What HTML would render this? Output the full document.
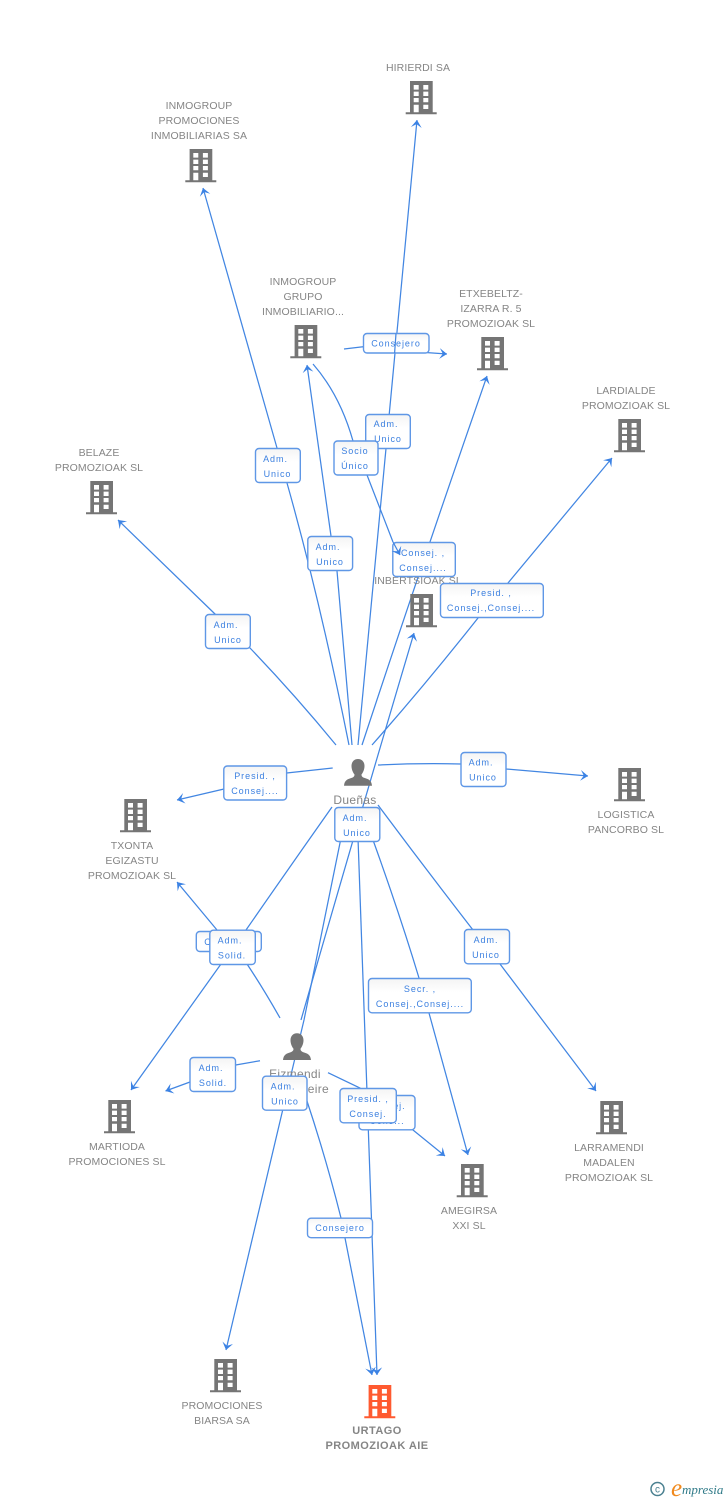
<!DOCTYPE html>
<html><head><meta charset="utf-8"><style>
html,body{margin:0;padding:0;background:#fff}
svg{display:block}
.n{font:10.5px "Liberation Sans",sans-serif;letter-spacing:.1px;fill:#858585;text-anchor:middle}
.b{font-size:11px;font-weight:bold;letter-spacing:.45px}
.p{font:12px "Liberation Sans",sans-serif;letter-spacing:.3px;fill:#858585;text-anchor:middle}
.l{font:9px "Liberation Sans",sans-serif;letter-spacing:.95px;fill:#3c80e0;text-anchor:middle}
.e path{fill:none;stroke:#4286e2;stroke-width:1.25;marker-end:url(#a)}
.e path.x{marker-end:none}
.r rect{fill:url(#g);stroke:#5f97e6;stroke-width:1.4}
</style></head><body>
<svg width="728" height="1500" viewBox="0 0 728 1500" xmlns="http://www.w3.org/2000/svg">
<defs>
<linearGradient id="g" x1="0" y1="0" x2="0" y2="1"><stop offset="0" stop-color="#f4f4f4"/><stop offset=".4" stop-color="#fff"/><stop offset="1" stop-color="#fff"/></linearGradient>
<marker id="a" markerUnits="userSpaceOnUse" markerWidth="16" markerHeight="16" refX="8" refY="8" orient="auto" overflow="visible"><path d="M8,8 L.5,2.6 L3.8,8 L.5,13.4 Z" fill="#3b82e4"/></marker>
<g id="bd"><path fill-rule="evenodd" d="M4.3,0H27V31.3H31V33.3H0V31.3H4.3ZM8,4V8.6H13V4ZM17.6,4V8.6H22.6V4ZM8,10.6V15H13V10.6ZM17.6,10.6V15H22.6V10.6ZM8,17V21.2H13V17ZM17.6,17V21.2H22.6V17ZM8,23.7V31.3H13V23.7ZM17.6,23.7V28H22.6V23.7Z"/></g>
<g id="pr"><path d="M14,0C18,0 20.5,3 20.5,7C20.5,10.5 19,13.5 17.5,15.5C17.5,17 18,18 20,18.8C24,20 27.5,21 28,26.7H0C.5,21 4,20 8,18.8C10,18 10.5,17 10.5,15.5C9,13.5 7.5,10.5 7.5,7C7.5,3 10,0 14,0Z"/></g>
</defs>

<g class="e">
<path d="M349,745Q320,600 287,483L277,448L203,188"/>
<path d="M358,745Q388,431 417,120"/>
<path d="M352,745Q343,640 337,571L331,536L307,365"/>
<path d="M344,349L363,346.7L429,352.7L447,354"/>
<path class="x" d="M313,364Q340,395 353,441L367,475L393,542"/>
<path d="M362,745Q423,560 487,376"/>
<path d="M372,745Q425,685 478,618L508,583L612,458"/>
<path d="M336,745Q295,695 250,648L215,614L118,520"/>
<path d="M301,1020Q357,825 414,633"/>
<path d="M332.7,768L286.7,773L224,789L177,800"/>
<path d="M378,765Q420,763 461,764L506,769L588,776"/>
<path d="M332,807Q289,868 246,930L221,964L131,1090"/>
<path d="M280,1018Q263,988 247,964L217,930L177,882"/>
<path d="M378,805Q425,868 473,930L500,964L596,1091"/>
<path d="M373,840Q400,915 419,978L429,1013L468,1155"/>
<path d="M358,838Q368,1106 377,1375"/>
<path d="M341,838L304,1020L282.7,1110L226,1350"/>
<path d="M260,1060.7L235.7,1065L190,1082L165.5,1091"/>
<path d="M328,1072.7L360,1088L413,1130L445,1156"/>
<path d="M306,1098Q326,1158 341,1218L345,1238L372,1375"/>
</g>

<g fill="#757575">
<use href="#bd" x="405.7" y="81"/>
<use href="#bd" x="185.3" y="149"/>
<use href="#bd" x="290.3" y="325"/>
<use href="#bd" x="477" y="337"/>
<use href="#bd" x="614" y="419"/>
<use href="#bd" x="86" y="481"/>
<use href="#bd" x="406" y="594"/>
<use href="#bd" x="614" y="768"/>
<use href="#bd" x="120" y="799"/>
<use href="#bd" x="104" y="1100"/>
<use href="#bd" x="596" y="1101"/>
<use href="#bd" x="456.7" y="1164"/>
<use href="#bd" x="210" y="1359"/>
<use href="#pr" x="344" y="759"/>
<use href="#pr" x="283" y="1033.3"/>
</g>
<use href="#bd" x="364.3" y="1385" fill="#ff5a30"/>

<text class="n" x="418" y="71">HIRIERDI SA</text>
<text class="n" x="199" y="109">INMOGROUP</text><text class="n" x="199" y="124">PROMOCIONES</text><text class="n" x="199" y="139">INMOBILIARIAS SA</text>
<text class="n" x="303" y="285">INMOGROUP</text><text class="n" x="303" y="300">GRUPO</text><text class="n" x="303" y="315">INMOBILIARIO...</text>
<text class="n" x="491" y="297">ETXEBELTZ-</text><text class="n" x="491" y="312">IZARRA R.  5</text><text class="n" x="491" y="327">PROMOZIOAK SL</text>
<text class="n" x="626" y="394">LARDIALDE</text><text class="n" x="626" y="409">PROMOZIOAK SL</text>
<text class="n" x="99" y="456">BELAZE</text><text class="n" x="99" y="471">PROMOZIOAK SL</text>
<text class="n" x="418" y="584">INBERTSIOAK SL</text>
<text class="n" x="626" y="818">LOGISTICA</text><text class="n" x="626" y="833">PANCORBO SL</text>
<text class="n" x="132" y="849">TXONTA</text><text class="n" x="132" y="864">EGIZASTU</text><text class="n" x="132" y="879">PROMOZIOAK SL</text>
<text class="n" x="117" y="1150">MARTIODA</text><text class="n" x="117" y="1165">PROMOCIONES SL</text>
<text class="n" x="609" y="1151">LARRAMENDI</text><text class="n" x="609" y="1166">MADALEN</text><text class="n" x="609" y="1181">PROMOZIOAK SL</text>
<text class="n" x="469" y="1214">AMEGIRSA</text><text class="n" x="469" y="1229">XXI SL</text>
<text class="n" x="222" y="1409">PROMOCIONES</text><text class="n" x="222" y="1424">BIARSA SA</text>
<text class="n b" x="377" y="1434">URTAGO</text><text class="n b" x="377" y="1449">PROMOZIOAK AIE</text>
<text class="p" x="355" y="804">Dueñas</text>
<text class="p" x="295" y="1078">Eizmendi</text><text class="p" x="297" y="1093">Aizpurueire</text>

<g class="r"><rect x="363.5" y="333.5" width="65.5" height="19.5" rx="3.5"/></g>
<text class="l" x="396" y="346.5">Consejero</text>
<g class="e"><path class="x" d="M396,333.5L394.6,353"/></g>

<g class="r"><rect x="365.7" y="414.5" width="44.6" height="34" rx="3.5"/></g>
<text class="l" x="386" y="427">Adm.</text><text class="l" x="388" y="442">Unico</text>
<g class="r"><rect x="334" y="441" width="44" height="34" rx="3.5"/></g>
<text class="l" x="355" y="454">Socio</text><text class="l" x="355" y="469">Único</text>
<g class="r"><rect x="255.5" y="448.5" width="44.8" height="34" rx="3.5"/></g>
<text class="l" x="275.5" y="462">Adm.</text><text class="l" x="277.5" y="477">Unico</text>
<g class="r"><rect x="307.8" y="536.5" width="44.8" height="34" rx="3.5"/></g>
<text class="l" x="328" y="550">Adm.</text><text class="l" x="330" y="565">Unico</text>
<g class="r"><rect x="392.8" y="542.5" width="62.5" height="34" rx="3.5"/></g>
<text class="l" x="423" y="556">Consej. ,</text><text class="l" x="423" y="571">Consej....</text>
<g class="e"><path d="M393,542L400,555"/></g>
<g class="r"><rect x="440.5" y="583.5" width="102.8" height="34" rx="3.5"/></g>
<text class="l" x="491" y="596">Presid. ,</text><text class="l" x="491" y="611">Consej.,Consej....</text>
<g class="r"><rect x="205.5" y="614.5" width="44.8" height="34" rx="3.5"/></g>
<text class="l" x="226" y="628">Adm.</text><text class="l" x="228" y="643">Unico</text>
<g class="r"><rect x="223.8" y="766" width="62.8" height="34" rx="3.5"/></g>
<text class="l" x="255" y="779">Presid. ,</text><text class="l" x="255" y="794">Consej....</text>
<g class="r"><rect x="461" y="752.5" width="45" height="34" rx="3.5"/></g>
<text class="l" x="481" y="765.5">Adm.</text><text class="l" x="483" y="780.5">Unico</text>
<g class="r"><rect x="334.8" y="807.5" width="45" height="34" rx="3.5"/></g>
<text class="l" x="355" y="821">Adm.</text><text class="l" x="357" y="836">Unico</text>
<g class="r"><rect x="196.3" y="931.5" width="65" height="20" rx="3.5"/></g>
<text class="l" x="229" y="945">Consejero</text>
<g class="r"><rect x="209.8" y="930.2" width="45.5" height="34.3" rx="3.5"/></g>
<text class="l" x="230" y="943.5">Adm.</text><text class="l" x="232" y="958.5">Solid.</text>
<g class="r"><rect x="464.5" y="929.5" width="45" height="34.3" rx="3.5"/></g>
<text class="l" x="486" y="943">Adm.</text><text class="l" x="486" y="958">Unico</text>
<g class="r"><rect x="368.5" y="978.5" width="102.8" height="34.3" rx="3.5"/></g>
<text class="l" x="420" y="992">Secr. ,</text><text class="l" x="420" y="1007">Consej.,Consej....</text>
<g class="r"><rect x="190" y="1057.5" width="45.5" height="34" rx="3.5"/></g>
<text class="l" x="211" y="1071">Adm.</text><text class="l" x="213" y="1086">Solid.</text>
<g class="r"><rect x="359" y="1095.5" width="56" height="34.3" rx="3.5"/></g>
<text class="l" x="387" y="1109">Consej.</text><text class="l" x="387" y="1124">Cons...</text>
<g class="r"><rect x="262.5" y="1076.2" width="44.5" height="34" rx="3.5"/></g>
<text class="l" x="283" y="1089.5">Adm.</text><text class="l" x="285" y="1104.5">Unico</text>
<g class="r"><rect x="340" y="1088.5" width="56.3" height="34.3" rx="3.5"/></g>
<text class="l" x="368" y="1102">Presid. ,</text><text class="l" x="368" y="1117">Consej.</text>
<g class="r"><rect x="307.5" y="1218.2" width="65" height="19.5" rx="3.5"/></g>
<text class="l" x="340" y="1231">Consejero</text>

<circle cx="657.5" cy="1489" r="6.5" fill="none" stroke="#4a8090" stroke-width="1.5"/>
<text x="657.5" y="1492.5" font-family="Liberation Sans,sans-serif" font-size="10" fill="#4a8090" text-anchor="middle">c</text>
<text x="671" y="1496" font-family="Liberation Serif,serif" font-style="italic" font-size="25" fill="#f08a1e">e</text>
<text x="682" y="1494" font-family="Liberation Serif,serif" font-style="italic" font-size="13" fill="#2f7a88">mpresia</text>
</svg>
</body></html>
